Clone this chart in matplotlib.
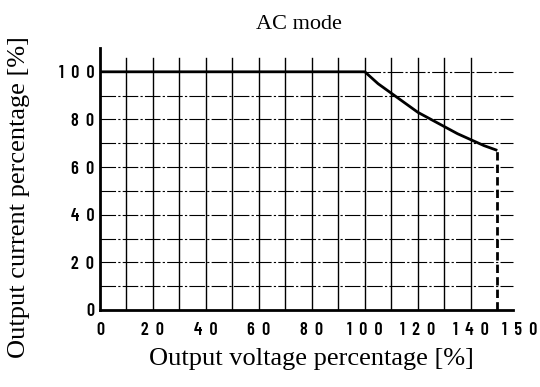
import numpy as np
import matplotlib
matplotlib.use("Agg")
import matplotlib.pyplot as plt

# output characteristic, AC mode
voltage = [0, 100, 105, 110, 115, 120, 125, 130, 135, 140, 145, 150]
current = [100, 100, 95, 91, 87, 83, 80, 77, 74, 71.5, 69, 67]

x_ticks = [0, 20, 40, 60, 80, 100, 120, 140]
y_ticks = [0, 20, 40, 60, 80, 100]

fig = plt.figure(figsize=(5.4, 3.87), dpi=100)
ax = fig.add_axes([0.185, 0.199, 0.785, 0.677])
ax.set_xlim(0, 160)
ax.set_ylim(0, 110)

# grid: solid verticals, broken dash-dot horizontals
for gx in range(10, 150, 10):
    ax.plot([gx, gx], [0, 106], color="black", lw=1.0, zorder=1)
for gy in range(10, 110, 10):
    x0 = 100 if gy == 100 else 0
    ax.plot([x0, 156], [gy, gy], color="black", lw=0.8,
            dashes=(14, 2, 2, 2), zorder=1)

# rated curve, then the dashed cut-off at the voltage limit
ax.plot(voltage, current, color="black", lw=2.0, zorder=3,
        solid_capstyle="butt")
ax.plot([voltage[-1], voltage[-1]], [0, current[-1]], color="black",
        lw=2.0, dashes=(3, 1.5), zorder=3)

for side in ["top", "right"]:
    ax.spines[side].set_visible(False)
ax.spines["left"].set_linewidth(2)
ax.spines["bottom"].set_linewidth(2)
ax.spines["bottom"].set_bounds(0, 156)

tick_font = dict(family=["Barlow Condensed", "DejaVu Sans"],
                 fontweight="semibold", fontsize=13)
ax.set_xticks(x_ticks + [158.5])
ax.set_xticklabels(["  ".join(str(v)) for v in x_ticks + [150]], **tick_font)
ax.set_yticks(y_ticks)
ax.set_yticklabels(["  ".join(str(v)) for v in y_ticks], **tick_font)
ax.tick_params(axis="x", length=0, pad=9)
ax.tick_params(axis="y", length=0, pad=4)

serif = ["Liberation Serif", "DejaVu Serif"]
ax.set_title("AC mode", family=serif, fontsize=16, pad=14, x=0.47)
ax.set_xlabel("Output voltage percentage [%]", family=serif, fontsize=19,
              labelpad=6)
ax.set_ylabel("Output current percentage [%]", family=serif, fontsize=19)
ax.yaxis.set_label_coords(-0.165, 0.43)

fig.savefig("out.png", dpi=100)
